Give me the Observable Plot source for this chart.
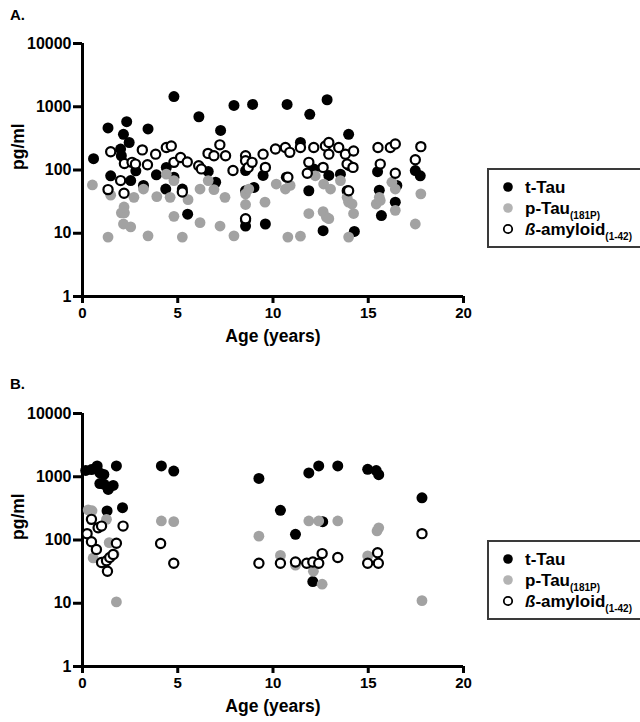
<!DOCTYPE html>
<html>
<head>
<meta charset="utf-8">
<script src="https://cdn.jsdelivr.net/npm/d3@7"></script>
<script src="https://cdn.jsdelivr.net/npm/@observablehq/plot@0.6"></script>
<style>
  html, body { margin: 0; padding: 0; background: #fff; }
  body { width: 640px; height: 722px; position: relative; overflow: hidden;
         font-family: "Liberation Sans", Arial, sans-serif; font-weight: bold; color: #000; }
  .panel { position: absolute; left: 0; }
  .plabel { position: absolute; left: 10px; font-size: 15px; }
  .legend { position: absolute; left: 487px; width: 200px; height: 76px;
            border: 2px solid #3a3a3a; background: #fff; box-sizing: content-box; }
  .legend .row { position: absolute; left: 0; height: 20px; }
  .legend svg { position: absolute; left: 11px; top: 0; }
  .legend .txt { position: absolute; left: 36px; top: -1px; font-size: 17px; white-space: nowrap; line-height: 20px; }
  .legend sub { font-size: 10px; vertical-align: -5px; }
</style>
</head>
<body>
<div class="plabel" style="top:6px">A.</div>
<div class="plabel" style="top:375px">B.</div>
<div id="pa" class="panel" style="top:0px"></div>
<div id="pb" class="panel" style="top:370px"></div>
<div id="la" class="legend" style="top:168px"></div>
<div id="lb" class="legend" style="top:540px"></div>
<script>
// ---------- Tick values ----------
const xTicks = [0, 5, 10, 15, 20];
const yTicks = [1, 10, 100, 1000, 10000];
const seriesNames = ["t-Tau", "p-Tau(181P)", "ß-amyloid(1-42)"];

// ---------- Panel A ----------
const aTTauAge = [0.58,1.34,1.48,2.32,2.15,2.0,2.45,2.04,2.53,2.8,3.44,3.2,3.88,4.4,4.8,4.8,4.37,5.24,5.52,6.11,6.6,6.99,7.25,7.95,8.93,8.56,8.56,8.56,8.56,9.0,9.48,9.6,10.74,10.7,11.44,11.93,11.88,12.14,12.84,12.93,12.63,13.97,13.54,13.89,14.27,14.0,15.49,15.58,15.69,16.42,16.5,17.47,17.73];
const aTTauVal = [151,463,81,580,367,214,272,168,68,97,446,57,84,110,1450,77,50,50,20,695,95,64,423,1050,1090,98,47,16,13,53,82,14,1090,77,272,760,47,104,1290,82,11,367,86,47,10.7,117,94,48,19,31,57,98,81];

const aPTauAge = [0.52,1.34,1.48,2.04,2.2,2.18,2.15,2.53,2.7,3.2,3.44,3.9,4.4,4.6,4.8,4.8,5.24,5.54,6.17,6.17,6.6,6.9,7.22,7.48,7.95,8.56,8.56,8.73,9.58,10.17,10.65,10.78,10.9,11.44,11.88,12.22,12.63,12.8,12.93,12.66,13.02,13.54,13.89,13.97,13.97,14.23,14.15,15.42,15.58,15.63,16.24,16.42,16.42,17.47,17.76];
const aPTauVal = [58,8.7,40,21,21,26,14,12.6,37,50,9.1,38,86,37,18.5,68,8.7,34,50,14.7,68,49,13,37,9.1,42,28.5,50,31,60,50,8.7,57,9,20.5,81,22,18,17,60,50,68,37,31,8.7,20.5,29,29,37,33,64,50,23,14,42];

const aAbAge = [1.34,1.48,2.0,2.18,2.2,2.6,2.78,3.14,3.41,3.84,4.4,4.66,4.8,5.15,5.24,5.5,6.1,6.24,6.59,6.9,7.21,7.51,7.9,8.56,8.56,8.7,8.9,8.56,9.48,9.6,10.13,10.65,10.88,10.78,11.44,11.88,11.8,12.14,12.63,12.75,12.93,12.93,13.45,13.8,13.89,14.23,14.2,13.97,15.51,15.63,16.16,16.42,16.42,17.47,17.76];
const aAbVal = [49,194,68,43,127,132,124,208,121,178,227,240,132,158,45,134,117,104,183,168,250,168,98,168,140,110,132,17,178,110,215,227,190,77,227,132,89,227,110,240,272,178,227,178,124,200,110,47,227,124,227,257,89,145,234];

// ---------- Panel B ----------
const bTTauAge = [0.17,0.47,0.77,0.91,1.12,0.91,1.14,1.35,1.61,1.78,1.29,2.1,4.14,4.79,9.26,10.39,11.18,11.88,12.4,12.61,12.09,13.4,14.97,15.42,15.55,17.82];
const bTTauVal = [1260,1300,1480,1150,1090,780,760,630,730,1480,288,324,1480,1230,940,295,123,1150,1480,195,22,1480,1310,1250,1080,465];

const bPTauAge = [0.3,0.5,0.56,1.26,1.4,1.66,1.78,4.14,4.79,9.26,10.39,11.18,11.88,12.4,12.12,12.58,13.4,14.97,15.46,15.55,17.82];
const bPTauVal = [300,290,52,212,91,60,10.5,200,195,115,57,40,200,200,32,20,200,56,139,156,11];

const bAbAge = [0.24,0.47,0.47,0.73,0.82,1.0,1.0,1.26,1.31,1.43,1.61,1.78,2.13,4.1,4.79,9.26,10.39,11.18,11.77,12.09,12.4,12.58,13.4,14.97,15.49,15.53,17.82];
const bAbVal = [126,94,212,71,156,166,44,47,32,53,59,89,166,88,43,43,43,45,43,45,43,61,53,43,63,43,126];

const BLACK = "#000000", GRAY = "#a2a2a2";

function rows(ages, vals) { return ages.map((a, i) => ({age: a, val: vals[i]})); }

function panel(tt, pt, ab, height, marginBottom) {
  return Plot.plot({
    width: 480,
    height,
    marginLeft: 82,
    marginRight: 17,
    marginTop: 43,
    marginBottom,
    style: {fontFamily: "'Liberation Sans', Arial, sans-serif", fontWeight: "bold", color: "#000", background: "transparent", overflow: "visible"},
    x: {domain: [0, 20]},
    y: {type: "log", domain: [1, 10000]},
    marks: [
      Plot.axisX({ticks: xTicks, tickSize: 7, tickPadding: 4, strokeWidth: 3, fontSize: 15, label: null}),
      Plot.axisY({ticks: yTicks, tickFormat: d => String(d), tickSize: 9, tickPadding: 2, strokeWidth: 3, fontSize: 16, label: null}),
      Plot.ruleX([0], {y1: 1, y2: 10000, strokeWidth: 3, stroke: BLACK}),
      Plot.ruleY([1], {x1: 0, x2: 20, strokeWidth: 3, stroke: BLACK}),
      Plot.text(["Age (years)"], {frameAnchor: "bottom", dy: 45, fontSize: 17.5, fontWeight: "bold"}),
      Plot.text(["pg/ml"], {frameAnchor: "left", dx: -64, rotate: -90, fontSize: 17.5, fontWeight: "bold"}),
      Plot.dot(rows(tt[0], tt[1]), {x: "age", y: "val", r: 5.5, fill: BLACK, stroke: "none"}),
      Plot.dot(rows(pt[0], pt[1]), {x: "age", y: "val", r: 5.4, fill: GRAY, stroke: "none"}),
      Plot.dot(rows(ab[0], ab[1]), {x: "age", y: "val", r: 4.6, fill: "white", stroke: BLACK, strokeWidth: 2.2})
    ]
  });
}

document.getElementById("pa").append(panel([aTTauAge, aTTauVal], [aPTauAge, aPTauVal], [aAbAge, aAbVal], 360, 64));
document.getElementById("pb").append(panel([bTTauAge, bTTauVal], [bPTauAge, bPTauVal], [bAbAge, bAbVal], 352, 56));

function legend(el) {
  const items = [
    {fill: BLACK, stroke: "none", html: "t-Tau"},
    {fill: "#b3b3b3", stroke: "none", html: "p-Tau<sub>(181P)</sub>"},
    {fill: "white", stroke: BLACK, html: "<i>ß</i>-amyloid<sub>(1-42)</sub>"}
  ];
  items.forEach((it, i) => {
    const row = document.createElement("div");
    row.className = "row";
    row.style.top = (9 + i * 21) + "px";
    row.style.width = "200px";
    row.innerHTML = `<svg width="20" height="20"><circle cx="8" cy="8" r="${it.stroke === "none" ? 4.8 : 4.2}" fill="${it.fill}" stroke="${it.stroke}" stroke-width="1.8"/></svg><div class="txt">${it.html}</div>`;
    el.append(row);
  });
}
legend(document.getElementById("la"));
legend(document.getElementById("lb"));
</script>
</body>
</html>
